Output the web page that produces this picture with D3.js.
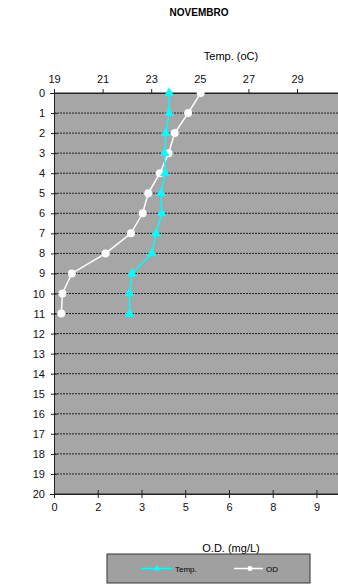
<!DOCTYPE html>
<html><head><meta charset="utf-8">
<script src="https://cdn.jsdelivr.net/npm/d3@7"></script>
<style>body{margin:0;background:#fff;}svg{display:block;font-family:"Liberation Sans",Arial,sans-serif;}</style>
</head><body>
<svg id="c" width="338" height="585"></svg>
<script>
const depths = [0,1,2,3,4,5,6,7,8,9,10,11];
const temp = [23.74,23.74,23.6,23.55,23.57,23.4,23.43,23.2,23.02,22.21,22.11,22.11];
const od = [5.03,4.6,4.14,3.93,3.63,3.23,3.04,2.64,1.77,0.61,0.29,0.25];
const depthTicks = d3.range(0,21);
const tempTicks = [19,21,23,25,27,29];
const odTicks = [0,1.5,3,4.5,6,7.5,9];

(function(){
const svg = d3.select("#c");
const L=54, R=345.6, T=93, B=494;
const y = d3.scaleLinear().domain([0,20]).range([T,B]);
const xT = d3.scaleLinear().domain([19,31]).range([L,R]);
const xO = d3.scaleLinear().domain([0,10]).range([L,R]);

svg.append("text").attr("x",199).attr("y",16).attr("text-anchor","middle")
  .attr("font-size",10).attr("font-weight","bold").text("NOVEMBRO");
svg.append("text").attr("x",231).attr("y",60).attr("text-anchor","middle")
  .attr("font-size",11).text("Temp. (oC)");
svg.append("text").attr("x",231).attr("y",552).attr("text-anchor","middle")
  .attr("font-size",11).text("O.D. (mg/L)");

svg.append("rect").attr("x",L).attr("y",T).attr("width",R-L).attr("height",B-T).attr("fill","#a6a6a6");
svg.append("g").selectAll("line").data(depthTicks.slice(1,20)).join("line")
  .attr("x1",L).attr("x2",R).attr("y1",d=>y(d)).attr("y2",d=>y(d))
  .attr("stroke","#222").attr("stroke-width",1).attr("stroke-dasharray","2,1");
svg.append("line").attr("x1",L).attr("x2",R).attr("y1",T).attr("y2",T).attr("stroke","#222");
svg.append("line").attr("x1",L).attr("x2",R).attr("y1",B).attr("y2",B).attr("stroke","#222");

const gTop = svg.append("g").attr("transform",`translate(0,${T})`)
  .call(d3.axisTop(xT).tickValues(tempTicks).tickSize(4).tickFormat(d3.format("d")));
const gBot = svg.append("g").attr("transform",`translate(0,${B})`)
  .call(d3.axisBottom(xO).tickValues(odTicks).tickSize(4).tickFormat(d=>String(Math.round(d+1e-9))));
const gLeft = svg.append("g").attr("transform",`translate(${L},0)`)
  .call(d3.axisLeft(y).tickValues(depthTicks).tickSize(4).tickFormat(d3.format("d")));
[gTop,gBot,gLeft].forEach(g=>{
  g.select(".domain").attr("stroke","#222");
  g.selectAll(".tick line").attr("stroke","#222");
  g.selectAll("text").attr("font-size",11).attr("fill","#111").attr("font-family","Liberation Sans, Arial, sans-serif");
});
gTop.selectAll("text").attr("dy","-0.3em");
gBot.selectAll(".tick line").attr("y1",-4);
gBot.selectAll("text").attr("dy","0.9em");
gLeft.selectAll(".tick line").attr("x2",3).attr("x1",-3);
gLeft.selectAll("text").attr("x",-9);

const lineT = d3.line().x((d,i)=>xT(temp[i])).y(d=>y(d));
const lineO = d3.line().x((d,i)=>xO(od[i])).y(d=>y(d));
svg.append("path").attr("d",lineO(depths)).attr("fill","none").attr("stroke","#fff").attr("stroke-width",1.5);
svg.append("g").selectAll("circle").data(depths).join("circle")
  .attr("cx",(d,i)=>xO(od[i])).attr("cy",d=>y(d)).attr("r",4).attr("fill","#fff");
svg.append("path").attr("d",lineT(depths)).attr("fill","none").attr("stroke","#00ffff").attr("stroke-width",1.5);
const tri = d3.symbol().type(d3.symbolTriangle).size(42);
svg.append("g").selectAll("path").data(depths).join("path")
  .attr("d",tri).attr("transform",(d,i)=>`translate(${xT(temp[i])},${y(d)})`).attr("fill","#00ffff");

const lg = svg.append("g");
lg.append("rect").attr("x",107).attr("y",554).attr("width",203).attr("height",29)
  .attr("fill","#a0a0a0").attr("stroke","#333").attr("stroke-width",1);
lg.append("line").attr("x1",141).attr("x2",172).attr("y1",568.5).attr("y2",568.5).attr("stroke","#00ffff").attr("stroke-width",1.5);
lg.append("path").attr("d",d3.symbol().type(d3.symbolTriangle).size(18)).attr("transform","translate(157,568.5)").attr("fill","#00ffff");
lg.append("text").attr("x",175).attr("y",571.5).attr("font-size",8).text("Temp.");
lg.append("line").attr("x1",234).attr("x2",263).attr("y1",568.5).attr("y2",568.5).attr("stroke","#fff").attr("stroke-width",1.5);
lg.append("circle").attr("cx",250).attr("cy",568.5).attr("r",2.5).attr("fill","#fff");
lg.append("text").attr("x",266).attr("y",571.5).attr("font-size",8).text("OD");
})();
</script>
</body></html>
